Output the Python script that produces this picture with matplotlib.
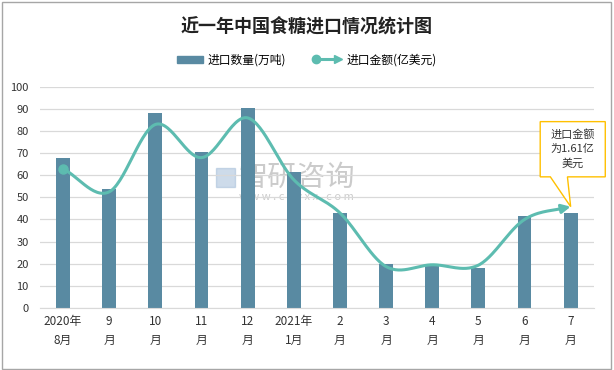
import numpy as np
import matplotlib
matplotlib.use("Agg")
import matplotlib.pyplot as plt
from matplotlib.patches import Rectangle, Polygon
from matplotlib.lines import Line2D
from matplotlib.legend_handler import HandlerBase

plt.rcParams["font.family"] = ["Noto Sans CJK SC", "DejaVu Sans"]

# ── Data ────────────────────────────────────────────────────
months = ["2020年\n8月", "9\n月", "10\n月", "11\n月", "12\n月", "2021年\n1月",
          "2\n月", "3\n月", "4\n月", "5\n月", "6\n月", "7\n月"]
volume = [68, 54, 88, 70.5, 90.5, 61.5, 43, 20, 19, 18, 41.5, 43]        # 万吨
amount = [63, 52.5, 83, 68, 86, 58, 43, 18.7, 19.5, 19.3, 40, 45.8]     # 亿美元 (scaled)
yticks = list(range(0, 101, 10))

BAR_C = "#598AA2"
LINE_C = "#5DBCB0"


def catmull_rom(xs, ys, n=30):
    xs = np.asarray(xs, float)
    ys = np.asarray(ys, float)
    px = np.concatenate([[2 * xs[0] - xs[1]], xs, [2 * xs[-1] - xs[-2]]])
    py = np.concatenate([[2 * ys[0] - ys[1]], ys, [2 * ys[-1] - ys[-2]]])
    ox, oy = [], []
    t = np.linspace(0, 1, n, endpoint=False)
    for i in range(1, len(px) - 2):
        for p, o in ((px, ox), (py, oy)):
            p0, p1, p2, p3 = p[i - 1], p[i], p[i + 1], p[i + 2]
            o.extend(0.5 * (2 * p1 + (-p0 + p2) * t
                            + (2 * p0 - 5 * p1 + 4 * p2 - p3) * t ** 2
                            + (-p0 + 3 * p1 - 3 * p2 + p3) * t ** 3))
    ox.append(xs[-1])
    oy.append(ys[-1])
    return np.array(ox), np.array(oy)


class HandlerArrowLine(HandlerBase):
    def create_artists(self, legend, orig, xd, yd, w, h, fs, trans):
        y = h / 2 - yd
        ln = Line2D([-xd, -xd + w * 0.8], [y, y], color=LINE_C, lw=2.2,
                    transform=trans)
        dot = Line2D([-xd], [y], marker="o", ms=6, color=LINE_C,
                     transform=trans)
        head = Line2D([-xd + w * 0.85], [y], marker=">", ms=6, color=LINE_C,
                      transform=trans)
        return [ln, dot, head]


fig = plt.figure(figsize=(6.14, 3.70), dpi=100)
ax = fig.add_axes([0.065, 0.168, 0.902, 0.597])

x = np.arange(len(months))
ax.bar(x, volume, width=0.3, color=BAR_C, zorder=2)

sx, sy = catmull_rom(x, amount)
ax.plot(sx[:-3], sy[:-3], color=LINE_C, lw=2.2, zorder=3, solid_capstyle="round")
ax.plot(x[0], amount[0], "o", color=LINE_C, ms=6.5, zorder=4)
ax.annotate("", xy=(x[-1], amount[-1]), xytext=(sx[-8], sy[-8]),
            arrowprops=dict(arrowstyle="-|>", color=LINE_C, lw=2.2,
                            mutation_scale=13, shrinkA=0, shrinkB=0),
            zorder=4)

ax.set_xlim(-0.5, len(months) - 0.5)
ax.set_ylim(0, 100)
ax.set_yticks(yticks)
ax.set_xticks(x)
ax.set_xticklabels(months, fontsize=8.5, color="#333333", linespacing=1.6)
ax.tick_params(axis="y", labelsize=8, colors="#333333", length=0, pad=8)
ax.tick_params(axis="x", length=0, pad=5)
ax.grid(axis="y", color="#D9D9D9", lw=0.9, zorder=0)
for s in ["top", "right", "left"]:
    ax.spines[s].set_visible(False)
ax.spines["bottom"].set_color("#D9D9D9")

# callout for the last point
tx, ty = x[-1], amount[-1]
bx0, bx1, by0, by1 = tx - 0.66, tx + 0.75, ty + 13.5, ty + 38.5
callout = Polygon([(bx0, by0), (tx - 0.44, by0), (tx, ty), (tx - 0.07, by0),
                   (bx1, by0), (bx1, by1), (bx0, by1)],
                  closed=True, facecolor="white", edgecolor="#FFC000", lw=1,
                  clip_on=False, zorder=5)
ax.add_patch(callout)
ax.text((bx0 + bx1) / 2, (by0 + by1) / 2, "进口金额\n为1.61亿\n美元",
        ha="center", va="center", fontsize=8, color="#333333",
        linespacing=1.5, zorder=6)

# watermark
ax.add_patch(Rectangle((0.318, 0.545), 0.035, 0.09, transform=ax.transAxes,
                       color="#9DB8D6", alpha=0.5, zorder=1))
ax.text(0.36, 0.59, "智研咨询", transform=ax.transAxes, fontsize=21,
        color="#999999", alpha=0.5, ha="left", va="center", zorder=1)
ax.text(0.36, 0.5, "w w w . c h y x x . c o m", transform=ax.transAxes,
        fontsize=8, color="#999999", alpha=0.5, ha="left", va="center", zorder=1)

fig.suptitle("近一年中国食糖进口情况统计图", x=0.5, y=0.955, fontsize=13,
             fontweight="bold", color="#222222")

handles = [Rectangle((0, 0), 1, 1, color=BAR_C), Line2D([], [], color=LINE_C)]
fig.legend(handles, ["进口数量(万吨)", "进口金额(亿美元)"],
           handler_map={handles[1]: HandlerArrowLine()},
           loc="center", bbox_to_anchor=(0.5, 0.838), ncol=2, frameon=False,
           fontsize=8.5, handlelength=2.2, handleheight=0.6, columnspacing=2.5,
           handletextpad=0.4)

fig.patches.append(Rectangle((0.003, 0.004), 0.992, 0.99, transform=fig.transFigure,
                             fill=False, edgecolor="#A6A6A6", lw=1))

fig.savefig("out.png", dpi=100)
